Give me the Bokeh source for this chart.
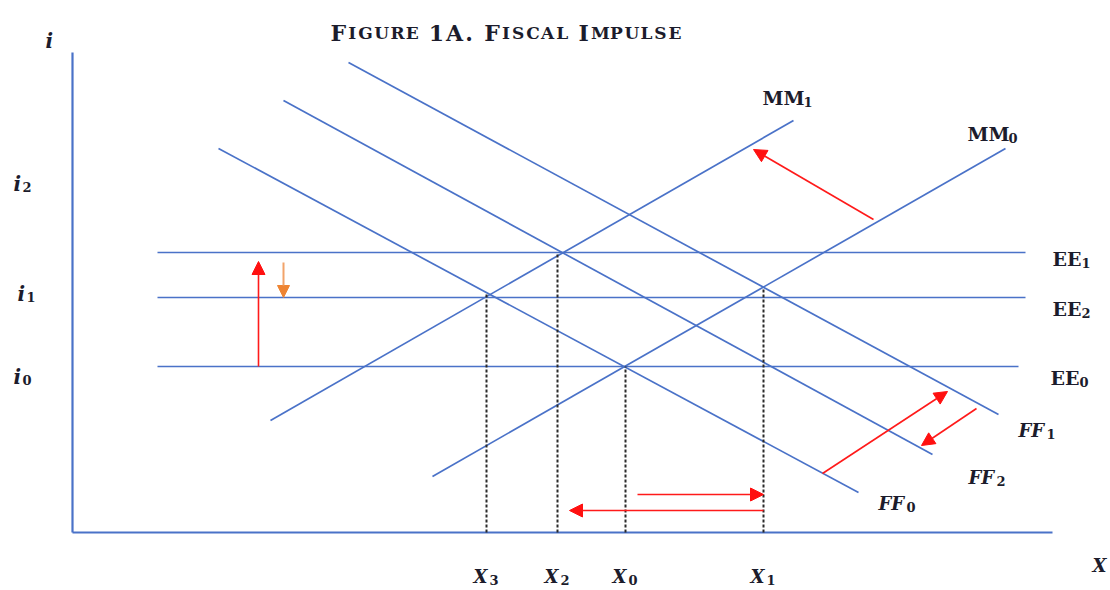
from bokeh.plotting import figure
from bokeh.models import Range1d, Arrow, NormalHead, ColumnDataSource
from bokeh.core.properties import value
from bokeh.embed import file_html
from bokeh.resources import INLINE

# ---------------- data (origin = corner of the axes) ----------------
# EE curves (horizontal): level and extent
ee_sub = ["1", "2", "0"]
ee_level = [280, 235, 166]
ee_x0 = [85, 85, 85]
ee_x1 = [953, 953, 946]

# MM curves (upward sloping)
mm_sub = ["1", "0"]
mm_x0 = [198, 360]
mm_y0 = [112, 56]
mm_x1 = [721, 933]
mm_y1 = [412, 384]

# FF curves (downward sloping)
ff_sub = ["0", "2", "1"]
ff_x0 = [146, 211, 276]
ff_y0 = [384, 432, 470]
ff_x1 = [786, 860, 926]
ff_y1 = [40, 78, 118]

# equilibrium output levels and their heights
x_sub = ["3", "2", "0", "1"]
x_vals = [414, 485, 553, 691]
x_tops = [240, 280, 166, 245]

# interest-rate labels
i_sub = ["0", "1", "2"]
i_vals = [156, 239, 349]

# shift arrows (red)
red_x0 = [186, 801, 565, 691, 750, 904]
red_y0 = [166, 313, 38, 22, 59, 124]
red_x1 = [186, 681, 691, 497, 875, 849]
red_y1 = [271, 383, 38, 22, 141, 87]
# orange arrow
or_x0 = [211]
or_y0 = [270]
or_x1 = [211]
or_y1 = [235]

axis_x_end = 980
axis_y_end = 480

BLUE = "#4a72c8"
TXT = "#1c1c2c"
SERIF = value("DejaVu Serif")

p = figure(width=1110, height=590, x_range=Range1d(-72, 1038), y_range=Range1d(-58, 532),
           output_backend="svg", toolbar_location=None, x_axis_location=None,
           y_axis_location=None, min_border=0, outline_line_color=None,
           background_fill_color="white", border_fill_color="white")
p.xgrid.visible = False
p.ygrid.visible = False

# axes
p.line([0, 0], [0, axis_y_end], line_color=BLUE, line_width=2.2)
p.line([0, axis_x_end], [0, 0], line_color=BLUE, line_width=2.2)

# EE lines
p.segment(x0=ee_x0, y0=ee_level, x1=ee_x1, y1=ee_level, line_color=BLUE, line_width=1.7)
# MM lines
p.segment(x0=mm_x0, y0=mm_y0, x1=mm_x1, y1=mm_y1, line_color=BLUE, line_width=1.7)
# FF lines
p.segment(x0=ff_x0, y0=ff_y0, x1=ff_x1, y1=ff_y1, line_color=BLUE, line_width=1.7)

# dotted verticals
p.segment(x0=x_vals, y0=[0] * len(x_vals), x1=x_vals, y1=x_tops,
          line_color="#2a2a2a", line_width=2, line_dash="3 2")

# arrows
red_src = ColumnDataSource(dict(x0=red_x0, y0=red_y0, x1=red_x1, y1=red_y1))
p.add_layout(Arrow(end=NormalHead(size=13, fill_color="#ff1010", line_color="#ff1010"),
                   x_start="x0", y_start="y0", x_end="x1", y_end="y1", source=red_src,
                   line_color="#ff1a1a", line_width=1.6))
or_src = ColumnDataSource(dict(x0=or_x0, y0=or_y0, x1=or_x1, y1=or_y1))
p.add_layout(Arrow(end=NormalHead(size=12, fill_color="#ee8432", line_color="#ee8432"),
                   x_start="x0", y_start="y0", x_end="x1", y_end="y1", source=or_src,
                   line_color="#f2a36a", line_width=2))


def label(main, sub, x, y, sub_dx, size=19, sub_size=13, style="bold", sub_dy=-4):
    p.text(x=[x], y=[y], text=[main], text_font=SERIF, text_font_style=style,
           text_font_size=f"{size}px", text_color=TXT, text_baseline="alphabetic",
           text_align="left")
    if sub:
        p.text(x=[x + sub_dx], y=[y + sub_dy], text=[sub], text_font=SERIF,
               text_font_style="bold", text_font_size=f"{sub_size}px", text_color=TXT,
               text_baseline="alphabetic", text_align="left")


# MM labels
mm_lab_x = [690, 895]
mm_lab_y = [435, 399]
for s, lx, ly in zip(mm_sub, mm_lab_x, mm_lab_y):
    label("MM", s, lx, ly, 41, size=19)

# EE labels
ee_lab_x = [980, 980, 978]
ee_lab_y = [274, 224, 155]
for s, lx, ly in zip(ee_sub, ee_lab_x, ee_lab_y):
    label("EE", s, lx, ly, 29, size=19)

# FF labels
ff_lab_x = [806, 896, 946]
ff_lab_y = [29, 55, 102]
for s, lx, ly in zip(ff_sub, ff_lab_x, ff_lab_y):
    label("FF", s, lx, ly, 28, size=18, style="bold italic", sub_dy=-3)

# X labels
for s, xv in zip(x_sub, x_vals):
    label("X", s, xv - 13, -44, 16, size=18, style="bold italic", sub_dy=-3)
label("X", None, 1020, -33, 0, size=18, style="bold italic")

# i labels
i_lab_x = [-59, -55, -59]
for s, lx, ly in zip(i_sub, i_lab_x, i_vals):
    label("i", s, lx, ly, 9, size=20, style="bold italic", sub_dy=-3)
label("i", None, -27, 492, 0, size=20, style="bold italic")

# title in small caps, laid out letter by letter
title_parts = [("F", 1), ("IGURE", 0), (" 1A. ", 1), ("F", 1), ("ISCAL", 0), (" I", 1), ("MPULSE", 0)]
adv = {"F": 0.72, "I": 0.47, "G": 0.82, "U": 0.83, "R": 0.78, "E": 0.73, "1": 0.70,
       "A": 0.78, ".": 0.38, "S": 0.72, "C": 0.75, "L": 0.69, "M": 1.0, "P": 0.74, " ": 0.30}
BIG, SMALL, TRACK = 22, 17, 2.0
tx, ty, ts, tsz = [], [], [], []
cur = 258
for chunk, big in title_parts:
    for ch in chunk:
        sz = BIG if big else SMALL
        if ch != " ":
            tx.append(cur)
            ty.append(500)
            ts.append(ch)
            tsz.append(f"{sz}px")
        cur += adv[ch] * sz + TRACK
p.text(x=tx, y=ty, text=ts, text_font=SERIF, text_font_style="bold", text_font_size=tsz,
       text_color=TXT, text_baseline="alphabetic", text_align="left")

open("out.html", "w").write(file_html(p, INLINE))
